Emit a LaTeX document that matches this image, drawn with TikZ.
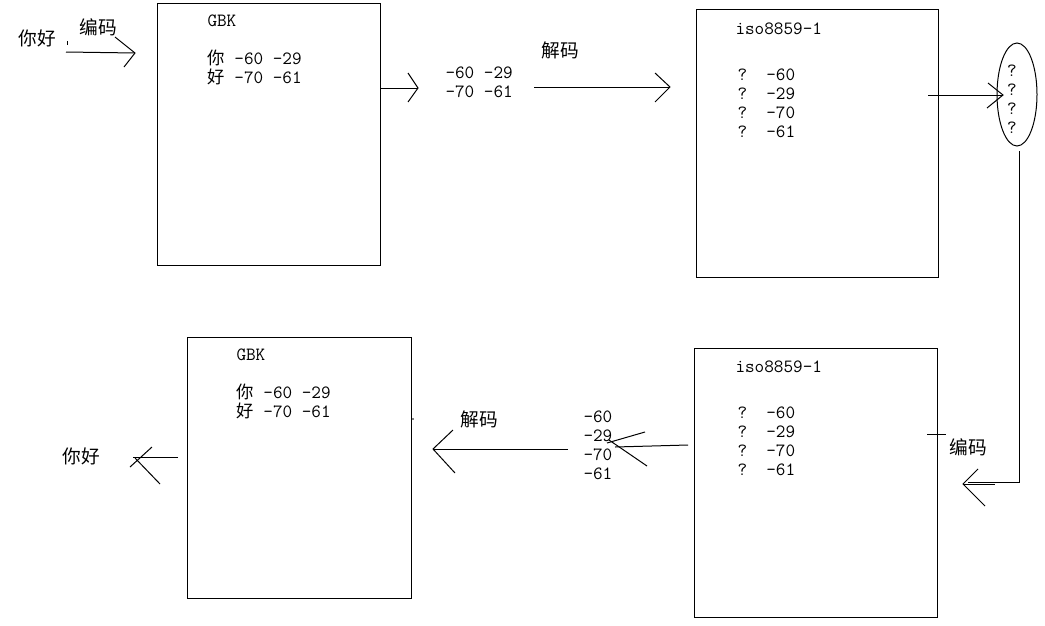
\documentclass[tikz,border=0pt]{standalone}
\usepackage{fontspec}
\setmainfont{Liberation Serif}
\newfontfamily\cjk{Noto Sans CJK SC}
\usetikzlibrary{shapes.geometric}

\tikzset{
  box/.style={draw, anchor=north west, inner sep=0pt, outer sep=0pt},
  codetxt/.style={inner sep=0pt, anchor=west, align=left, font=\ttfamily\fontsize{14}{14.25}\selectfont},
  hanzi/.style={inner sep=0pt, font=\cjk\fontsize{14}{16}\selectfont},
}
\newcommand{\hz}[1]{{\cjk\fontsize{13}{14.25}\selectfont #1}}

\begin{document}
\begin{tikzpicture}[x=0.75pt,y=-0.75pt,line width=0.75pt]
\useasboundingbox (0,0) rectangle (1045,625);
% the four boxes
\node[box, minimum width=167.25pt, minimum height=196.5pt] (gbkA) at (157,3) {};
\node[box, minimum width=181.5pt, minimum height=201pt] (isoA) at (696,9) {};
\node[box, minimum width=168pt, minimum height=195.75pt] (gbkB) at (187,337) {};
\node[box, minimum width=182.25pt, minimum height=201.75pt] (isoB) at (694,348) {};
% texts in the boxes
\node[codetxt] (gbkAhead) at (207,21) {GBK};
\node[codetxt] (gbkAbytes) at (207,67.5) {\hz{你}~-60~-29\\\hz{好}~-70~-61};
\node[codetxt] (isoAhead) at (735,29) {iso8859-1};
\node[codetxt] (isoAbytes) at (737,103) {?~~-60\\?~~-29\\?~~-70\\?~~-61};
\node[codetxt] (gbkBhead) at (236,355) {GBK};
\node[codetxt] (gbkBbytes) at (236,401.5) {\hz{你}~-60~-29\\\hz{好}~-70~-61};
\node[codetxt] (isoBhead) at (735,367) {iso8859-1};
\node[codetxt] (isoBbytes) at (737,441.5) {?~~-60\\?~~-29\\?~~-70\\?~~-61};
% loose bytes and the oval
\node[codetxt] (bytesA) at (445,82) {-60~-29\\-70~-61};
\node[codetxt] (bytesB) at (583,445) {-60\\-29\\-70\\-61};
\node[draw, ellipse, minimum width=30pt, minimum height=77.25pt, inner sep=0pt] (oval) at (1017,94.5) {};
\node[codetxt, align=center, anchor=center] (marks) at (1012,99) {?\\?\\?\\?};
% labels
\node[hanzi] (wordIn) at (37,38) {你好};
\node[hanzi] (encA) at (98,27) {编码};
\node[hanzi] (decA) at (560,50) {解码};
\node[hanzi] (decB) at (479,419) {解码};
\node[hanzi] (encB) at (968,447) {编码};
\node[hanzi] (wordOut) at (81,456) {你好};
\draw (67,41) -- (67,45);
% word into GBK
\coordinate (inTail) at (66,52);
\coordinate (inTip) at (135,53);
\draw (inTail) -- (inTip);
\draw (inTip) ++(-20,-16) -- (inTip) -- ++(-11,14);
% GBK to bytes
\coordinate (aTip) at (418,88);
\draw (gbkA.east |- aTip) -- (aTip);
\draw (aTip) ++(-10,-15) -- (aTip) -- ++(-10,14);
% bytes to iso8859-1
\coordinate (bTail) at (534,87);
\coordinate (bTip) at (670,87);
\draw (bTail) -- (bTip);
\draw (bTip) ++(-15,-14) -- (bTip) -- ++(-15,15);
% iso8859-1 to oval
\coordinate (cTip) at (1003,95);
\draw (isoA.east |- cTip) ++(-10,0) -- (cTip);
\draw (cTip) ++(-15,-12) -- (cTip) -- ++(-16,13);
% oval round to the second iso8859-1
\coordinate (dTop) at (1019,151);
\coordinate (dCorner) at (1019,482);
\coordinate (dTip) at (963,484);
\draw (dTop) -- (dCorner) -- (968,482);
\draw (dTip) -- ++(32,0);
\draw (dTip) ++(15,-15) -- (dTip) -- ++(22,22);
\draw (927,434) -- (946,434);
% iso8859-1 to bytes
\coordinate (eTail) at (688,445);
\coordinate (eTip) at (615,447);
\draw (eTail) -- (eTip);
\draw (645,432) -- (607,443);
\draw (609,440) -- (647,466);
% bytes to GBK
\coordinate (fTail) at (568,449);
\coordinate (fTip) at (433,449);
\draw (fTail) -- (fTip);
\draw (fTip) ++(20,-19) -- (fTip) -- ++(22,24);
\fill (413,419) circle (0.6pt);
% GBK back to the word
\coordinate (gTip) at (133,457);
\draw (gbkB.west |- gTip) ++(-9,0) -- (gTip);
\draw (152,447) -- (130,467);
\draw (135,458) -- (160,484);
\end{tikzpicture}
\end{document}
